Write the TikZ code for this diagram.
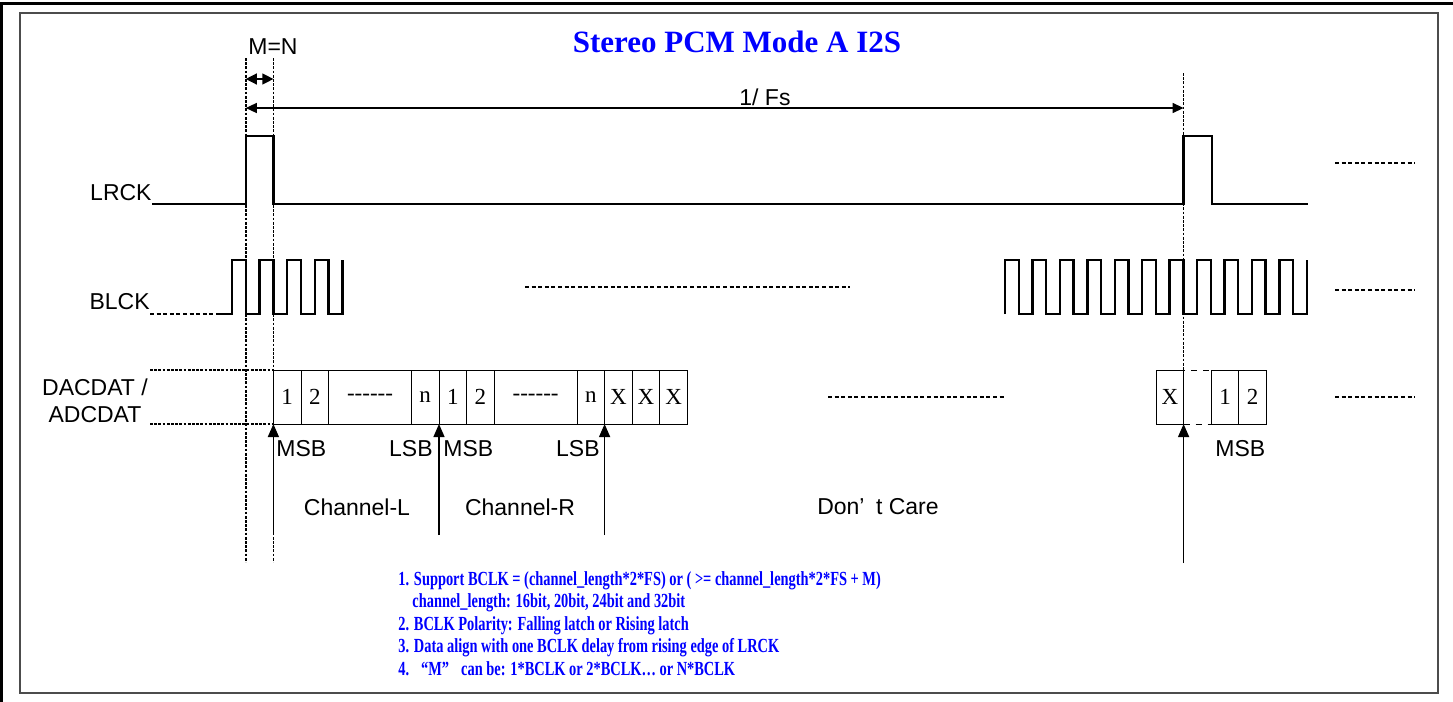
\documentclass[tikz,border=0pt]{standalone}
\usepackage{fontspec}
\setmainfont{Liberation Serif}
\setsansfont{Liberation Sans}
\newfontfamily\notefont{Liberation Serif}[FakeStretch=0.72]
\usetikzlibrary{arrows.meta,positioning}
\tikzset{
  sig/.style={line width=1.2pt, line join=miter},
  guide/.style={line width=0.7pt, dash pattern=on 1.4pt off 0.7pt},
  more/.style={line width=0.9pt, dash pattern=on 2pt off 1.3pt},
  lbl/.style={font=\sffamily\fontsize{11.5}{13.5}\selectfont, inner sep=0pt},
  bit/.style={draw, line width=0.5pt, inner sep=0pt, outer sep=0pt, minimum height=27pt, minimum width=13.8pt, font=\fontsize{11.5}{13}\selectfont},
  ptr/.style={line width=0.65pt, -{Triangle[length=6.5pt, width=5.5pt]}},
  dim/.style={line width=0.65pt, {Triangle[length=5.5pt, width=5pt]}-{Triangle[length=5.5pt, width=5pt]}},
  mnarrow/.style={line width=0.65pt, {Triangle[length=5.5pt, width=5.5pt]}-{Triangle[length=5.5pt, width=5.5pt]}},
  ttl/.style={font=\bfseries\fontsize{15.5}{18}\selectfont, text=blue, inner sep=0pt},
  note/.style={font=\notefont\bfseries\fontsize{10}{11.5}\selectfont, text=blue, inner sep=0pt, anchor=base west}
}
\newcommand\dashrun{-{}-{}-{}-{}-{}-}

\begin{document}
\begin{tikzpicture}[x=0.5pt, y=-0.5pt]
\useasboundingbox (0,0) rectangle (1453,702);
\draw[line width=1.5pt] (0,3.5) -- (1453,3.5) (1.5,3.5) -- (1.5,702);
\draw[line width=0.9pt, black!70] (20,13) rectangle (1438,693);

\node[ttl] (title) at (737,42) {Stereo PCM Mode A I2S};

\coordinate (gA) at (245.8,58);
\coordinate (gB) at (273.4,58);
\coordinate (gC) at (1183.6,73);
\draw[guide] (gA) -- ++(0,504) (gB) -- ++(0,504) (gC) -- ++(0,490);

\node[lbl] (mn) at (273,47) {M=N};
\draw[mnarrow] (gA |- 0,79) -- (gB |- 0,79);
\node[lbl] (fs) at (765,97) {1/ Fs};
\draw[dim] (gA |- 0,108) -- (gC |- 0,108);

\node[lbl, anchor=east] (lrck) at (152,193) {LRCK};
\draw[sig] (152,204) -| (245.8,136) -| (273.4,204) -| (1183.6,136) -| (1212,204) -- (1308,204);
\draw[more] (1335,163) -- (1415,163);

\node[lbl, anchor=east] (bclk) at (150,302) {BLCK};
\draw[more] (150,314) -- (218,314);
\draw[sig] (218,314) -- (232,314) \foreach \k in {1,...,4} {-- ++(0,-54) -- ++(13.8,0) -- ++(0,54) -- ++(13.8,0)} -- ++(0,-54);
\draw[more] (525,287) -- (850,287);
\draw[sig] (1005,314) \foreach \k in {1,...,11} {-- ++(0,-54) -- ++(13.72,0) -- ++(0,54) -- ++(13.72,0)} -- ++(0,-54);
\draw[more] (1335,290) -- (1415,290);

\node[lbl, align=center] (dat) at (95,401) {DACDAT /\\ADCDAT};
\draw[guide] (150,370) -- (gB |- 0,370) (150,424) -- (gB |- 0,424);
\coordinate (d0) at (273.4,397);
\foreach \t/\w [count=\i, remember=\i as \j (initially 0)] in {1/1,2/1,\dashrun/3,n/1,1/1,2/1,\dashrun/3,n/1,X/1,X/1,X/1}
  \node[bit, minimum width=\w*13.8pt, right=0pt of d\j] (d\i) {\t};
\draw[more] (828,397) -- (1005,397);
\node[bit] (x1) at (1169.8,397) {X};
\node[bit, dashed, right=0pt of x1] (e1) {};
\node[bit, right=0pt of e1] (r1) {1};
\node[bit, right=0pt of r1] (r2) {2};
\draw[more] (1335,397) -- (1415,397);

\draw[ptr] ([yshift=-55.5pt]d1.south west) -- (d1.south west);
\draw[ptr] ([yshift=-55.5pt]d5.south west) -- (d5.south west);
\draw[ptr] ([yshift=-55.5pt]d9.south west) -- (d9.south west);
\draw[ptr] ([yshift=-69.5pt]x1.south east) -- (x1.south east);

\node[lbl, anchor=west] (msb1) at (276,449) {MSB};
\node[lbl, anchor=east] (lsb1) at (433,449) {LSB};
\node[lbl, anchor=west] (msb2) at (443,449) {MSB};
\node[lbl, anchor=east] (lsb2) at (600,449) {LSB};
\node[lbl, anchor=west] (msb3) at (1215,449) {MSB};
\node[lbl] (chl) at (357,507) {Channel-L};
\node[lbl] (chr) at (520,507) {Channel-R};
\node[lbl] (dc) at (878,507) {Don’\hspace{0.5em}t Care};

\node[note] (n1) at (398,585) {1. Support BCLK = (channel\_length*2*FS) or ( >= channel\_length*2*FS + M)};
\node[note] (n2) at (412,607.5) {channel\_length: 16bit, 20bit, 24bit and 32bit};
\node[note] (n3) at (398,630) {2. BCLK Polarity: Falling latch or Rising latch};
\node[note] (n4) at (398,652.5) {3. Data align with one BCLK delay from rising edge of LRCK};
\node[note] (n5) at (398,675) {4.\hspace{0.6em}“M”\hspace{0.6em}can be: 1*BCLK or 2*BCLK… or N*BCLK};
\end{tikzpicture}
\end{document}
